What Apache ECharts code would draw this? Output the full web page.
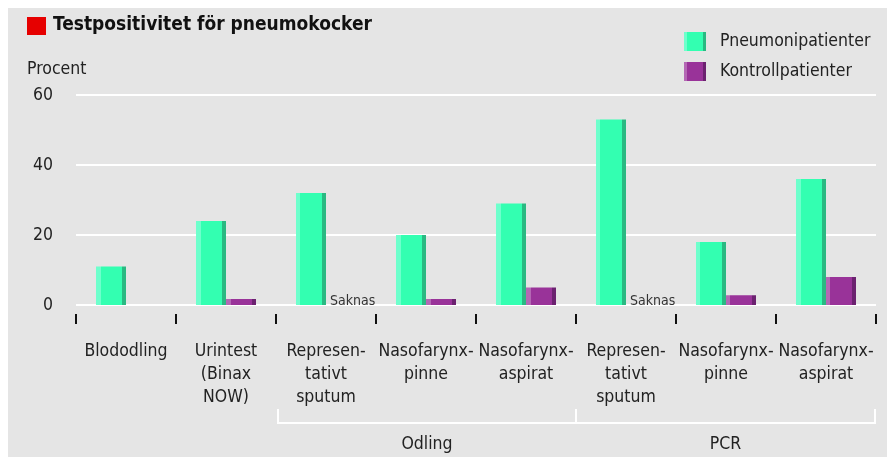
<!DOCTYPE html>
<html>
<head>
<meta charset="utf-8">
<script src="https://cdn.jsdelivr.net/npm/echarts@6/dist/echarts.min.js"></script>
<style>
    html, body { margin: 0; padding: 0; background: #fff; }
    #chart { width: 889px; height: 457px; }
</style>
</head>
<body>
<div id="chart"></div>
<script>
const categories = [
    'Blododling',
    'Urintest\n(Binax\nNOW)',
    'Represen-\ntativt\nsputum',
    'Nasofarynx-\npinne',
    'Nasofarynx-\naspirat',
    'Represen-\ntativt\nsputum',
    'Nasofarynx-\npinne',
    'Nasofarynx-\naspirat'
];
// null = "Saknas" (missing), undefined = no bar
const pneumoni = [11, 24, 32, 20, 29, 53, 18, 36];
const kontroll = [undefined, 1.7, null, 1.7, 5, null, 2.8, 8];
const groups = [
    { name: 'Odling', from: 2, to: 4 },
    { name: 'PCR', from: 5, to: 7 }
];
const yTicks = { min: 0, max: 60, interval: 20 };

const FONT = '"DejaVu Sans Condensed", "DejaVu Sans", sans-serif';
const FS = 17.5;

// flat bar with a light left edge and a dark right edge
function shaded(light, main, dark) {
    return new echarts.graphic.LinearGradient(0, 0, 1, 0, [
        { offset: 0, color: light },
        { offset: 0.15, color: light },
        { offset: 0.15, color: main },
        { offset: 0.87, color: main },
        { offset: 0.87, color: dark },
        { offset: 1, color: dark }
    ]);
}

const kontrollData = kontroll.map(v => {
    if (v === null) {
        return {
            value: 0,
            label: {
                show: true,
                formatter: 'Saknas',
                position: [4, -4],
                verticalAlign: 'middle',
                align: 'left',
                fontFamily: FONT,
                fontSize: 14,
                color: '#333'
            }
        };
    }
    return v === undefined ? '-' : v;
});

const myChart = echarts.init(document.getElementById('chart'));

const option = {
    animation: false,
    backgroundColor: '#fff',
    textStyle: { fontFamily: FONT },
    grid: [
        { left: 76, right: 13, top: 95, bottom: 152 },
        // thin strip just below the plot, carries the ticks and labels
        { left: 76, right: 13, top: 305, bottom: 143 }
    ],
    legend: {
        orient: 'vertical',
        left: 684,
        top: 32,
        padding: 0,
        itemWidth: 22,
        itemHeight: 19,
        itemGap: 11,
        icon: 'rect',
        selectedMode: false,
        textStyle: { fontSize: FS, color: '#222', padding: [0, 0, 0, 9] },
        data: ['Pneumonipatienter', 'Kontrollpatienter']
    },
    xAxis: [
        {
            type: 'category',
            gridIndex: 0,
            data: categories,
            axisLine: { show: false },
            axisTick: { show: false },
            axisLabel: { show: false }
        },
        {
            type: 'category',
            gridIndex: 1,
            data: categories,
            axisLine: { show: false },
            axisTick: { show: true, length: 10, lineStyle: { color: '#111', width: 2 } },
            axisLabel: {
                margin: 26,
                interval: 0,
                fontSize: FS,
                lineHeight: 23,
                color: '#222',
                align: 'center'
            }
        }
    ],
    yAxis: [
        {
            type: 'value',
            gridIndex: 0,
            min: yTicks.min,
            max: yTicks.max,
            interval: yTicks.interval,
            axisLine: { show: false },
            axisTick: { show: false },
            axisLabel: { fontSize: FS, color: '#222', margin: 23 },
            splitLine: { lineStyle: { color: '#fff', width: 2 } }
        },
        {
            type: 'value',
            gridIndex: 1,
            show: false
        }
    ],
    series: [
        {
            name: 'Pneumonipatienter',
            type: 'bar',
            barWidth: 30,
            barGap: '0%',
            data: pneumoni,
            itemStyle: { color: shaded('#6effcc', '#33ffb1', '#2ab982') }
        },
        {
            name: 'Kontrollpatienter',
            type: 'bar',
            barWidth: 30,
            barGap: '0%',
            data: kontrollData,
            itemStyle: { color: shaded('#b468b4', '#993399', '#6c2270') }
        }
    ],
    graphic: [
        { type: 'rect', left: 8, top: 8, z: -10, shape: { width: 879, height: 449 }, style: { fill: '#e5e5e5' } },
        { type: 'rect', left: 27, top: 17, shape: { width: 19, height: 18 }, style: { fill: '#e60000' } },
        {
            type: 'text', left: 53, top: 16,
            style: { text: 'Testpositivitet för pneumokocker', fontFamily: FONT, fontWeight: 'bold', fontSize: 19, fill: '#111' }
        },
        {
            type: 'text', left: 27, top: 60,
            style: { text: 'Procent', fontFamily: FONT, fontSize: FS, fill: '#222' }
        }
    ]
};

myChart.setOption(option);

// group brackets under the category labels
const band = myChart.convertToPixel({ xAxisIndex: 1 }, 1) - myChart.convertToPixel({ xAxisIndex: 1 }, 0);
const edge = i => myChart.convertToPixel({ xAxisIndex: 1 }, i) - band / 2;
const bracketY = 423;
const extra = [];
groups.forEach((g, i) => {
    const x0 = edge(g.from) + (i === 0 ? 2 : 0);
    const x1 = edge(g.to + 1) - (i === groups.length - 1 ? 1 : 0);
    extra.push({
        type: 'polyline',
        shape: { points: [[x0, bracketY - 14], [x0, bracketY], [x1, bracketY], [x1, bracketY - 14]] },
        style: { stroke: '#fff', lineWidth: 2, fill: null }
    });
    extra.push({
        type: 'text',
        x: (x0 + x1) / 2,
        y: 444,
        style: { text: g.name, fontFamily: FONT, fontSize: FS, fill: '#222', align: 'center', verticalAlign: 'middle' }
    });
});
myChart.setOption({ graphic: option.graphic.concat(extra) });
</script>
</body>
</html>
